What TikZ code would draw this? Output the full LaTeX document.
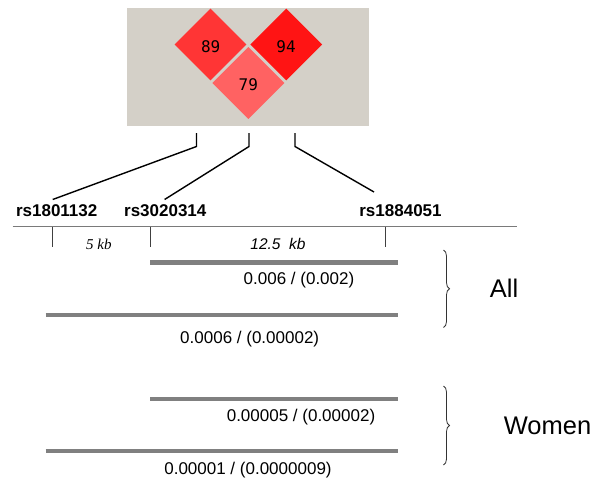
\documentclass[tikz,border=0pt]{standalone}
\usepackage{fontspec}
\setmainfont{Liberation Sans}
\newfontfamily\serifit{Liberation Serif}
\newfontfamily\monodig{DejaVu Sans Mono}
\usetikzlibrary{shapes.geometric,decorations.pathreplacing}
\definecolor{panelgray}{HTML}{D4D0C8}
\definecolor{ldA}{HTML}{FF3535}
\definecolor{ldB}{HTML}{FF1414}
\definecolor{ldC}{HTML}{FF6262}
\definecolor{bargray}{HTML}{808080}
\definecolor{axisgray}{HTML}{7A7A7A}
\begin{document}
\begin{tikzpicture}[x=1pt,y=-1pt,
  panel/.style={fill=panelgray,draw=none,minimum width=242pt,minimum height=118pt,inner sep=0pt},
  ldbox/.style={diamond,shape aspect=1,minimum width=72pt,minimum height=72pt,inner sep=0pt,draw=none},
  ldnum/.style={anchor=base,inner sep=0pt,font=\monodig\fontsize{16}{18}\selectfont},
  conn/.style={black,line width=1.4pt},
  snp/.style={anchor=base,inner sep=0pt,font=\fontsize{17}{20}\selectfont\bfseries},
  axisline/.style={axisgray,line width=1.4pt},
  tick/.style={black!75,line width=0.8pt},
  dist/.style={anchor=base,inner sep=0pt},
  hap/.style={bargray,line width=4.5pt},
  pval/.style={anchor=base,inner sep=0pt,font=\fontsize{17}{20}\selectfont},
  grp/.style={anchor=base,inner sep=0pt,font=\fontsize{25.5}{30}\selectfont},
  brc/.style={black!80,line width=0.8pt,decorate,decoration={brace,amplitude=6pt}}]
\useasboundingbox (0,0) rectangle (600,490);
% LD panel
\node[panel] (panel) at (248,67) {};
\node[ldbox,fill=ldA] (d89) at (210.5,44.5) {};
\node[ldbox,fill=ldB] (d94) at (286.2,44.5) {};
\node[ldbox,fill=ldC] (d79) at (248.4,83) {};
\node[ldnum] (t89) at (210.7,52.3) {89};
\node[ldnum] (t94) at (286,52.3) {94};
\node[ldnum] (t79) at (248.3,90.8) {79};
% connectors
\coordinate (c1a) at (196.5,133);
\coordinate (c1b) at (196.5,146.5);
\coordinate (c1c) at (52.7,199.5);
\coordinate (c2a) at (249,133);
\coordinate (c2b) at (249,146.5);
\coordinate (c2c) at (164.6,199.5);
\coordinate (c3a) at (295,133);
\coordinate (c3b) at (295,146.5);
\coordinate (c3c) at (374,192);
\draw[conn] (c1a) -- (c1b) -- (c1c);
\draw[conn] (c2a) -- (c2b) -- (c2c);
\draw[conn] (c3a) -- (c3b) -- (c3c);
% SNP labels
\node[snp] (s1) at (56.7,216.7) {rs1801132};
\node[snp] (s2) at (165.3,216.7) {rs3020314};
\node[snp] (s3) at (400.5,216.7) {rs1884051};
% axis
\coordinate (axL) at (12.7,226.7);
\coordinate (axR) at (516.7,226.7);
\draw[axisline] (axL) -- (axR);
\coordinate (k1a) at (52.3,226.7);
\coordinate (k1b) at (52.3,247);
\coordinate (k2a) at (150,226.7);
\coordinate (k2b) at (150,247);
\coordinate (k3a) at (385.7,226.7);
\coordinate (k3b) at (385.7,247);
\draw[tick] (k1a) -- (k1b);
\draw[tick] (k2a) -- (k2b);
\draw[tick] (k3a) -- (k3b);
\node[dist,font=\serifit\itshape\fontsize{15}{18}\selectfont] (kb5) at (98.8,249) {5 kb};
\node[dist,font=\itshape\fontsize{15.5}{18}\selectfont] (kb12) at (278,249) {12.5\ \ kb};
% haplotype bars, All
\coordinate (h1a) at (150,262.7);
\coordinate (h1b) at (398.3,262.7);
\coordinate (h2a) at (45.7,315);
\coordinate (h2b) at (398.3,315);
\draw[hap] (h1a) -- (h1b);
\draw[hap] (h2a) -- (h2b);
\node[pval] (p1) at (299,284) {0.006 / (0.002)};
\node[pval] (p2) at (249.7,343) {0.0006 / (0.00002)};
% Women
\coordinate (h3a) at (150,399);
\coordinate (h3b) at (398.3,399);
\coordinate (h4a) at (45.7,451);
\coordinate (h4b) at (398.3,451);
\draw[hap] (h3a) -- (h3b);
\draw[hap] (h4a) -- (h4b);
\node[pval] (p3) at (301,421) {0.00005 / (0.00002)};
\node[pval] (p4) at (248,474) {0.00001 / (0.0000009)};
% braces and group labels
\coordinate (b1t) at (443.5,250);
\coordinate (b1b) at (443.5,327.5);
\coordinate (b2t) at (443.5,386);
\coordinate (b2b) at (443.5,465);
\draw[brc] (b1t) -- (b1b);
\draw[brc] (b2t) -- (b2b);
\node[grp] (gall) at (504,297) {All};
\node[grp] (gwom) at (547.5,434) {Women};
\end{tikzpicture}
\end{document}
